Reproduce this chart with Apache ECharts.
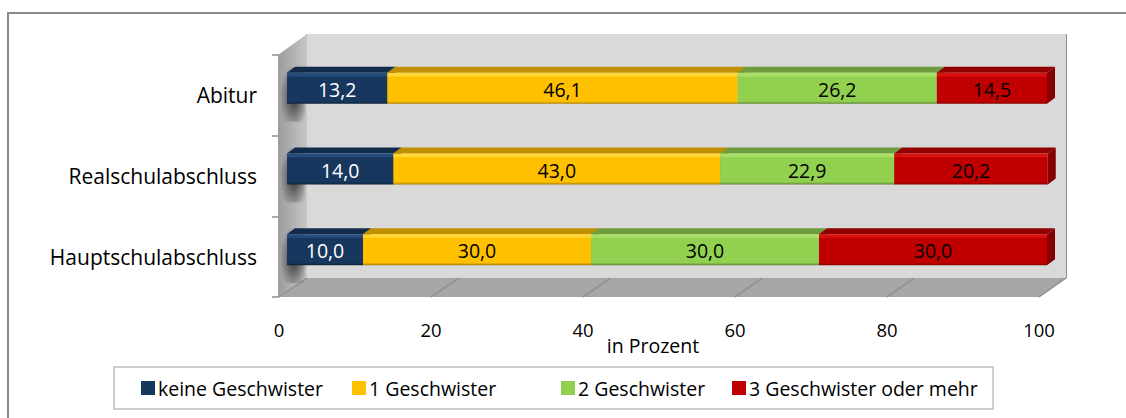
<!DOCTYPE html>
<html>
<head>
<meta charset="utf-8">
<script src="https://cdn.jsdelivr.net/npm/echarts@6/dist/echarts.min.js"></script>
<style>
  html, body { margin: 0; padding: 0; background: #fff; }
  #chart { width: 1126px; height: 418px; }
</style>
</head>
<body>
<div id="chart"></div>
<script>
var categories = ["Abitur", "Realschulabschluss", "Hauptschulabschluss"];
var seriesNames = ["keine Geschwister", "1 Geschwister", "2 Geschwister", "3 Geschwister oder mehr"];
var keineGeschwister = [13.2, 14.0, 10.0];
var einGeschwister = [46.1, 43.0, 30.0];
var zweiGeschwister = [26.2, 22.9, 30.0];
var dreiOderMehr = [14.5, 20.2, 30.0];
var xTicks = [0, 20, 40, 60, 80, 100];

var allValues = [keineGeschwister, einGeschwister, zweiGeschwister, dreiOderMehr];

// Farben: Vorderseite, Oberseite, Lichtkante
var palette = [
    { front: "#17375E", top: "#112B4A", light: "#254C7C", side: "#0E2238", label: "#ffffff" },
    { front: "#FFC000", top: "#C09000", light: "#FFD633", side: "#A77D00", label: "#000000" },
    { front: "#92D050", top: "#6E9C3C", light: "#A8E066", side: "#5C8431", label: "#000000" },
    { front: "#C00000", top: "#900000", light: "#D81010", side: "#850000", label: "#000000" }
];

var font = "'Open Sans', Lato, sans-serif";

// Rahmen vorne / hinten (3D-Kasten)
var front = { left: 279, right: 1039, top: 55, bottom: 297 };
var back = { left: 307, right: 1066, top: 34, bottom: 278 };
var W = 1126, H = 418;

// gestapelte Anfangswerte
var cumulative = [0, 0, 0];
var seriesData = allValues.map(function (vals) {
    return vals.map(function (v, i) {
        var start = cumulative[i];
        cumulative[i] += v;
        return [start, start + v, i, v];
    });
});

function fmt(v) {
    return v.toFixed(1).replace(".", ",");
}

function makeRender(idx) {
    var col = palette[idx];
    return function (params, api) {
        var start = api.value(0), end = api.value(1), cat = api.value(2);
        var p0 = api.coord([start, cat]);
        var p1 = api.coord([end, cat]);
        var band = api.size([0, 1])[1];
        var h = band * 0.385;
        var ox = 8, oy = -7;       // Tiefe der Balken im Kasten
        var dx = 8, dy = -6;       // Tiefe der Balken selbst
        var x0 = p0[0] + ox, x1 = p1[0] + ox;
        var yc = p0[1] + oy;
        var yt = yc - h / 2, yb = yc + h / 2;
        var children = [];
        if (idx === 0) {
            // Schatten auf der Seitenwand
            children.push({
                type: "rect",
                shape: { x: front.left + 2, y: yt - 6, width: back.left - front.left - 4, height: h + 24 },
                style: {
                    fill: new echarts.graphic.RadialGradient(0.55, 0.55, 0.6, [
                        { offset: 0, color: "rgba(30,30,30,0.85)" },
                        { offset: 1, color: "rgba(30,30,30,0)" }
                    ])
                },
                silent: true
            });
        }
        children.push({
            type: "polygon",
            shape: { points: [[x1, yt], [x1 + dx, yt + dy], [x1 + dx, yb + dy], [x1, yb]] },
            style: { fill: col.side }
        });
        children.push({
            type: "polygon",
            shape: { points: [[x0, yt], [x1, yt], [x1 + dx, yt + dy], [x0 + dx, yt + dy]] },
            style: { fill: col.top }
        });
        children.push({
            type: "rect",
            shape: { x: x0, y: yt, width: x1 - x0, height: h },
            style: {
                fill: new echarts.graphic.LinearGradient(0, 0, 0, 1, [
                    { offset: 0, color: col.light },
                    { offset: 0.1, color: col.light },
                    { offset: 0.14, color: col.front },
                    { offset: 0.92, color: col.front },
                    { offset: 1, color: col.side }
                ])
            }
        });
        children.push({
            type: "text",
            style: {
                x: (x0 + x1) / 2,
                y: yc + 1,
                text: fmt(api.value(3)),
                fill: col.label,
                font: "19.5px " + font,
                align: "center",
                verticalAlign: "middle"
            }
        });
        return { type: "group", children: children };
    };
}

var series = seriesNames.map(function (name, idx) {
    return {
        type: "custom",
        name: name,
        xAxisIndex: 0,
        yAxisIndex: 0,
        renderItem: makeRender(idx),
        encode: { x: [0, 1], y: 2 },
        itemStyle: { color: palette[idx].front },
        data: seriesData[idx],
        z: 10
    };
});

// Boden-Diagonalen
var floorLines = xTicks.map(function (t) {
    var f = front.left + (front.right - front.left) * t / 100;
    var b = back.left + (back.right - back.left) * t / 100;
    return {
        type: "line",
        shape: { x1: f, y1: front.bottom, x2: b, y2: back.bottom },
        style: { stroke: "#8c8c8c", lineWidth: 1.5 },
        z: 2
    };
});

var graphics = [
    {
        type: "polyline",
        shape: { points: [[8, H], [8, 13], [W, 13]] },
        style: { stroke: "#8a8a8a", lineWidth: 2, fill: null },
        z: 0
    },
    {
        type: "polygon",
        shape: { points: [[front.left, front.bottom], [front.right, front.bottom], [back.right, back.bottom], [back.left, back.bottom]] },
        style: { fill: "#a6a6a6" },
        z: 1
    },
    {
        type: "polygon",
        shape: { points: [[front.left - 1, front.top], [back.left, back.top], [back.left, back.bottom], [front.left - 1, front.bottom]] },
        style: {
            fill: new echarts.graphic.LinearGradient(0, 0, 1, 0, [
                { offset: 0, color: "#9c9c9c" },
                { offset: 1, color: "#c6c6c6" }
            ])
        },
        z: 1
    },
    {
        type: "rect",
        shape: { x: 114, y: 367, width: 879, height: 42 },
        style: { stroke: "#bfbfbf", lineWidth: 1.5, fill: "#fff" },
        z: 0
    }
].concat(floorLines);

var legendLefts = [141, 352, 561, 732];
var legends = seriesNames.map(function (name, i) {
    return {
        left: legendLefts[i],
        top: 378,
        padding: 0,
        itemWidth: 14,
        itemHeight: 14,
        icon: "rect",
        data: [name],
        selectedMode: false,
        textStyle: { fontFamily: font, fontSize: 19.5, color: "#000", padding: [0, 0, 0, -2] }
    };
});

var chart = echarts.init(document.getElementById("chart"), null, { renderer: "svg" });
chart.setOption({
    animation: false,
    backgroundColor: "#fff",
    textStyle: { fontFamily: font },
    grid: [
        { left: front.left, right: W - front.right, top: front.top, bottom: H - front.bottom, containLabel: false, z: 5 },
        { left: back.left, right: W - back.right, top: back.top, bottom: H - back.bottom, show: true, backgroundColor: "#d9d9d9", borderWidth: 0, z: 1 }
    ],
    xAxis: [
        {
            gridIndex: 0,
            type: "value",
            min: 0,
            max: 100,
            interval: 20,
            axisLine: { show: false },
            axisTick: { show: false },
            splitLine: { show: false },
            axisLabel: { color: "#000", fontSize: 18.5, fontFamily: font, margin: 23 },
            name: "in Prozent",
            nameLocation: "middle",
            nameGap: 38,
            nameMoveOverlap: false,
            nameTextStyle: { color: "#000", fontSize: 19.5, fontFamily: font, padding: [0, 12, 0, 0] }
        },
        {
            gridIndex: 1,
            type: "value",
            position: "top",
            min: 0,
            max: 100,
            interval: 20,
            axisLine: { show: true, lineStyle: { color: "#bdbdbd", width: 1.5 } },
            axisTick: { show: true, length: 7, lineStyle: { color: "#8c8c8c", width: 1.5 } },
            axisLabel: { show: false },
            splitLine: { show: true, lineStyle: { color: "#8c8c8c", width: 2 } }
        }
    ],
    yAxis: [
        {
            gridIndex: 0,
            type: "category",
            data: categories,
            inverse: true,
            axisLine: { show: false },
            axisTick: { show: true, length: 7, lineStyle: { color: "#8c8c8c", width: 1.5 } },
            axisLabel: { color: "#000", fontSize: 21, fontFamily: font, margin: 22 },
            splitLine: { show: false }
        },
        {
            gridIndex: 1,
            type: "value",
            min: 0,
            max: 1,
            show: false
        }
    ],
    legend: legends,
    graphic: graphics,
    series: series
});
</script>
</body>
</html>
